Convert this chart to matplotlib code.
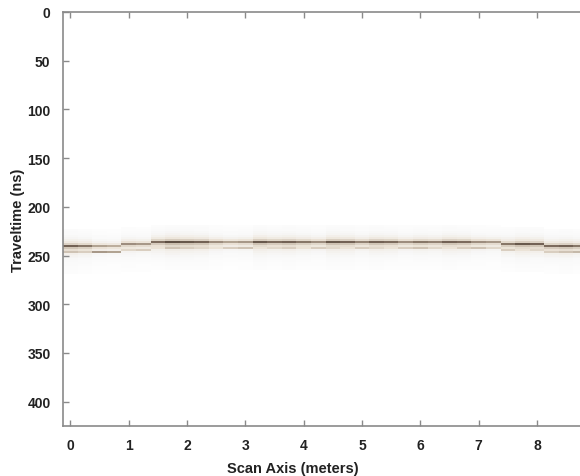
import numpy as np
from matplotlib import pyplot as plt
from matplotlib.colors import LinearSegmentedColormap

# trace positions along the scan line (m) and sample interval (ns)
scan_x = np.arange(0, 9.0, 0.25)
dt = 2.0
max_time = 426

# picked reflector travel time for each trace (ns)
reflector_ns = [240, 240, 239, 239, 238, 237.5, 237, 236.5, 236, 236, 235.5, 235.5,
                235, 235, 235.5, 235.5, 236, 236, 236, 236, 236, 235.5, 235.5, 235,
                235, 235, 235.5, 236, 236.5, 237, 237.5, 238, 238.5, 239, 239.5, 240]

# relative reflection strength of each trace
reflector_amp = [0.8, 0.7, 0.5, 0.45, 0.6, 0.55, 0.75, 0.9, 0.85, 0.8, 0.6, 0.5,
                 0.55, 0.85, 0.75, 0.8, 0.7, 0.6, 0.85, 0.8, 0.65, 0.8, 0.75, 0.6,
                 0.7, 0.65, 0.8, 0.75, 0.6, 0.55, 0.7, 0.85, 0.8, 0.75, 0.8, 0.7]

# strength of the weaker second arrival a few samples below
second_amp = [0.35, 0.3, 0.55, 0.5, 0.25, 0.3, 0.2, 0.35, 0.3, 0.25, 0.2, 0.3,
              0.35, 0.2, 0.25, 0.3, 0.2, 0.3, 0.25, 0.2, 0.3, 0.25, 0.2, 0.3,
              0.35, 0.25, 0.2, 0.3, 0.35, 0.25, 0.3, 0.2, 0.25, 0.3, 0.35, 0.4]

# pulse shape, samples from -8 to +14 around the reflector
wavelet_offsets = list(range(-8, 15))
wavelet = [0.04, 0.05, 0.06, 0.08, 0.1, 0.14, 0.2, 0.35, 1.0, 0.42, 0.28, 0.2,
           0.15, 0.12, 0.1, 0.08, 0.07, 0.06, 0.05, 0.04, 0.04, 0.03, 0.03]

times = np.arange(0, max_time + dt, dt)
section = np.zeros((len(times), len(scan_x)))
for j, (t0, amp, amp2) in enumerate(zip(reflector_ns, reflector_amp, second_amp)):
    i0 = int(round(t0 / dt))
    for off, w in zip(wavelet_offsets, wavelet):
        section[i0 + off, j] = amp * w
    section[i0 + 3, j] = max(section[i0 + 3, j], amp2)

cmap = LinearSegmentedColormap.from_list(
    'gpr', [(0, '#ffffff'), (0.06, '#f8f8f8'), (0.2, '#ebe3d7'),
            (0.45, '#bcae9d'), (0.75, '#7d6c5e'), (1, '#4a3c32')], N=256)

fig = plt.figure(figsize=(5.8, 4.77), dpi=100)
ax = fig.add_axes([63 / 580, 1 - 427 / 477, (588 - 63) / 580, (427 - 13) / 477])

x_edges = np.append(scan_x - 0.125, scan_x[-1] + 0.125)
t_edges = np.append(times - dt / 2, times[-1] + dt / 2)
ax.pcolormesh(x_edges, t_edges, section, cmap=cmap, vmin=0, vmax=1, shading='flat')

ax.set_xlim(-0.125, 8.875)
ax.set_ylim(425, 0)
ax.set_xticks(range(0, 9))
ax.set_yticks(range(0, 401, 50))

for side in ['left', 'top', 'bottom', 'right']:
    ax.spines[side].set_color('#8a8a8a')
    ax.spines[side].set_linewidth(1.2)

ax.tick_params(direction='in', length=4, width=1, color='#8a8a8a',
               top=True, right=True, labelsize=10, labelcolor='#222222', pad=9)
for lbl in ax.get_xticklabels() + ax.get_yticklabels():
    lbl.set_fontweight('bold')
    lbl.set_family('Liberation Sans')

ax.set_xlabel('Scan Axis (meters)', fontsize=10.5, fontweight='bold',
              family='Liberation Sans', color='#222222')
ax.xaxis.set_label_coords((293 - 63) / (588 - 63), -0.085)
ax.set_ylabel('Traveltime (ns)', fontsize=10.5, fontweight='bold',
              family='Liberation Sans', color='#222222')
ax.yaxis.set_label_coords((25 - 63) / (588 - 63), 0.5)

fig.savefig('out.png', dpi=100)
